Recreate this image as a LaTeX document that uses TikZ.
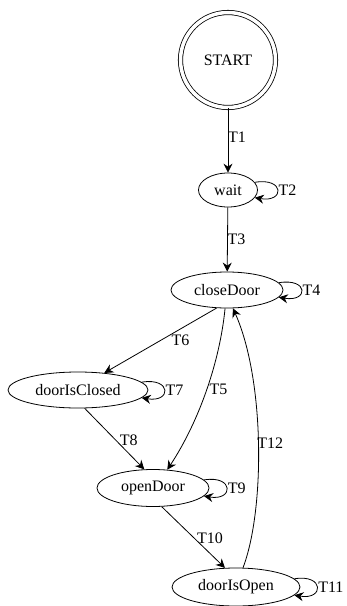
\documentclass[tikz,border=0pt]{standalone}
\usepackage{fontspec}
\setmainfont{Liberation Serif}
\newfontfamily\statefont{Liberation Serif}
\usetikzlibrary{shapes.geometric,arrows.meta}

\begin{document}
\begin{tikzpicture}[x=1pt,y=1pt,
  txt/.style={font=\statefont\fontsize{16}{18}\selectfont},
  state/.style={draw, ellipse, inner sep=0pt, line width=0.8pt, txt},
  edge/.style={line width=0.8pt, -{Stealth[length=9pt,width=9pt,inset=3pt]}},
  lbl/.style={txt, inner sep=1pt}]
  \useasboundingbox (0,0) rectangle (346,-606);

  % states
  \node[draw, circle, double, double distance=3.5pt, line width=0.8pt, minimum size=95pt,
        inner sep=0pt, txt] (start) at (228,-60) {START};
  \node[state, minimum width=59pt, minimum height=34pt] (wait) at (228,-190) {wait};
  \node[state, minimum width=112pt, minimum height=36pt] (closeDoor) at (227,-290) {closeDoor};
  \node[state, minimum width=140pt, minimum height=36pt] (doorIsClosed) at (78,-390) {doorIsClosed};
  \node[state, minimum width=112pt, minimum height=37pt] (openDoor) at (153,-488) {openDoor};
  \node[state, minimum width=128pt, minimum height=38pt] (doorIsOpen) at (236,-587) {doorIsOpen};

  % transitions between states
  \draw[edge] (start) -- node[lbl, pos=0.46, xshift=9pt] {T1} (wait);
  \draw[edge] (wait) -- node[lbl, pos=0.5, xshift=9pt] {T3} (closeDoor);
  \draw[edge] (closeDoor.-120) -- node[lbl, pos=0.5, xshift=20pt] {T6} (doorIsClosed.33);
  \draw[edge] (closeDoor.-96) .. controls (220,-360) and (200,-420) ..
    node[lbl, pos=0.5, xshift=12pt] {T5} (openDoor.52);
  \draw[edge] (doorIsClosed.-70) -- node[lbl, pos=0.52, xshift=13pt] {T8} (openDoor.115);
  \draw[edge] (openDoor.-65) -- node[lbl, pos=0.51, xshift=16pt] {T10} (doorIsOpen.120);
  \draw[edge] (doorIsOpen.70) .. controls (265,-510) and (265,-380) ..
    node[lbl, pos=0.5, xshift=12pt] {T12} (closeDoor.-72);

  % self loops
  \draw[edge] (wait.16) .. controls +(30,5) and +(30,-5) ..
    node[lbl, pos=0.5, anchor=west] {T2} (wait.-16);
  \draw[edge] (closeDoor.8) .. controls +(30,5) and +(30,-5) ..
    node[lbl, pos=0.5, anchor=west] {T4} (closeDoor.-8);
  \draw[edge] (doorIsClosed.7) .. controls +(30,5) and +(30,-5) ..
    node[lbl, pos=0.5, anchor=west] {T7} (doorIsClosed.-7);
  \draw[edge] (openDoor.9) .. controls +(30,5) and +(30,-5) ..
    node[lbl, pos=0.5, anchor=west] {T9} (openDoor.-9);
  \draw[edge] (doorIsOpen.8) .. controls +(30,5) and +(30,-5) ..
    node[lbl, pos=0.5, anchor=west] {T11} (doorIsOpen.-8);
\end{tikzpicture}
\end{document}
